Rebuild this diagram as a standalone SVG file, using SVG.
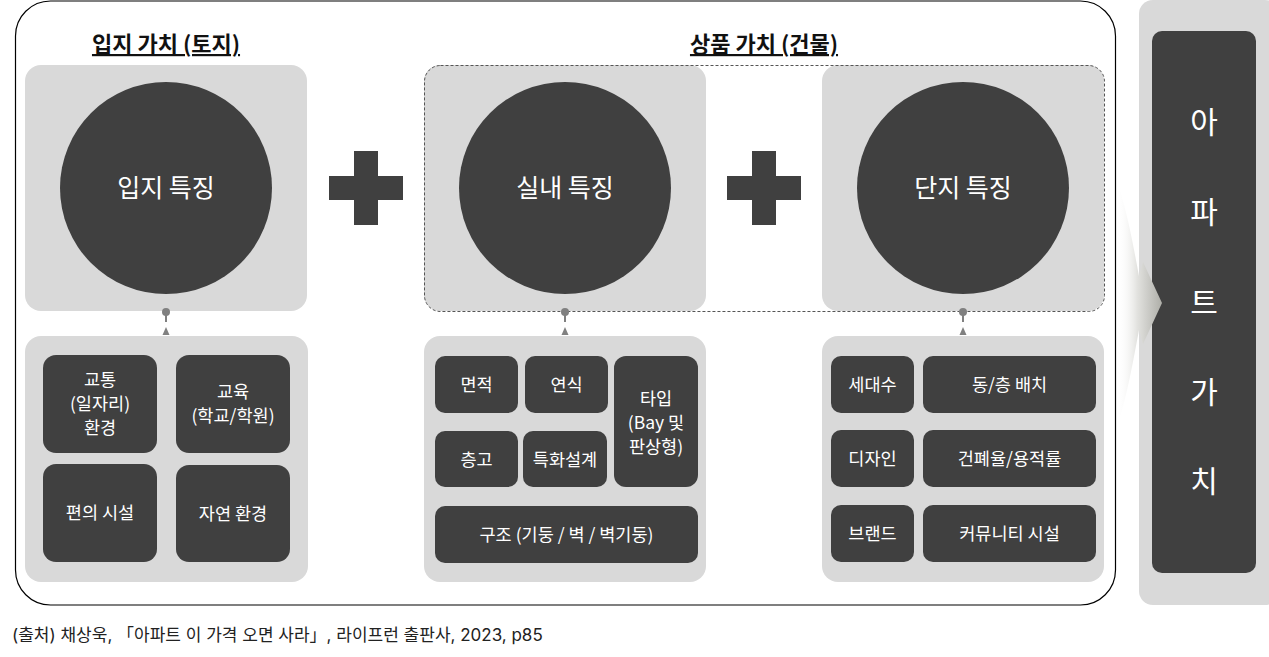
<svg xmlns="http://www.w3.org/2000/svg" width="1269" height="657" viewBox="0 0 1269 657">
<defs>
<style>
.bg{fill:#d9d9d9}
.dk{fill:#404040}
.t{font-family:"Noto Sans CJK KR","Noto Sans",sans-serif;fill:#ffffff;text-anchor:middle}
.s16{font-size:17.5px}
.s24{font-size:25px}
.hd{font-family:"Noto Sans CJK KR","Noto Sans",sans-serif;font-size:22px;font-weight:bold;fill:#111;text-anchor:middle;text-decoration:underline}
.con{stroke:#808080;stroke-width:2;fill:none}
.dot{fill:#808080}
</style>
<linearGradient id="ag" gradientUnits="userSpaceOnUse" x1="1117" y1="0" x2="1162" y2="0">
<stop offset="0" stop-color="#ffffff" stop-opacity="0"/>
<stop offset="0.45" stop-color="#e2e2df"/>
<stop offset="1" stop-color="#aeaea8"/>
</linearGradient>
</defs>
<rect width="1269" height="657" fill="#ffffff"/>

<rect x="15.5" y="1" width="1100" height="604" rx="35" fill="none" stroke="#000" stroke-width="1.2"/>

<g id="header-land"><text class="hd" x="166" y="52">입지 가치 (토지)</text></g>
<g id="header-product"><text class="hd" x="764" y="52">상품 가치 (건물)</text></g>

<g id="land-feature">
<rect class="bg" x="25" y="65" width="282" height="246" rx="16"/>
<circle class="dk" cx="166" cy="188" r="106"/>
<text class="t s24" x="166" y="197">입지 특징</text>
</g>

<g id="plus1"><rect class="dk" x="329" y="176" width="74" height="24"/><rect class="dk" x="354" y="151" width="24" height="74"/></g>

<g id="interior-feature">
<rect class="bg" x="424" y="65" width="282" height="246" rx="16"/>
<circle class="dk" cx="565" cy="188" r="106"/>
<text class="t s24" x="565" y="197">실내 특징</text>
</g>

<g id="plus2"><rect class="dk" x="727" y="176" width="74" height="24"/><rect class="dk" x="752" y="151" width="24" height="74"/></g>

<g id="complex-feature">
<rect class="bg" x="822" y="65" width="282" height="246" rx="16"/>
<circle class="dk" cx="963" cy="188" r="106"/>
<text class="t s24" x="963" y="197">단지 특징</text>
</g>

<g id="product-group"><rect x="424.5" y="65.5" width="680" height="246" rx="16" fill="none" stroke="#555" stroke-width="1" stroke-dasharray="3,2"/></g>

<g id="land-details">
<rect class="bg" x="25" y="336" width="283" height="246" rx="16"/>
<rect class="dk" x="43" y="355" width="114" height="98" rx="13"/>
<text class="t s16" x="100" y="386">교통</text><text class="t s16" x="100" y="410">(일자리)</text><text class="t s16" x="100" y="434">환경</text>
<rect class="dk" x="176" y="355" width="114" height="98" rx="13"/>
<text class="t s16" x="233" y="398">교육</text><text class="t s16" x="233" y="422">(학교/학원)</text>
<rect class="dk" x="43" y="464" width="114" height="98" rx="13"/>
<text class="t s16" x="100" y="519">편의 시설</text>
<rect class="dk" x="176" y="465" width="114" height="97" rx="13"/>
<text class="t s16" x="233" y="520">자연 환경</text>
</g>

<g id="interior-details">
<rect class="bg" x="424" y="336" width="282" height="246" rx="16"/>
<rect class="dk" x="435" y="356" width="83" height="57" rx="10"/><text class="t s16" x="476.5" y="391">면적</text>
<rect class="dk" x="525" y="356" width="83" height="57" rx="10"/><text class="t s16" x="566.5" y="391">연식</text>
<rect class="dk" x="614" y="356" width="84" height="131" rx="12"/>
<text class="t s16" x="656" y="405">타입</text><text class="t s16" x="656" y="429">(Bay 및</text><text class="t s16" x="656" y="453">판상형)</text>
<rect class="dk" x="435" y="431" width="83" height="56" rx="10"/><text class="t s16" x="476.5" y="466">층고</text>
<rect class="dk" x="523" y="431" width="84" height="56" rx="10"/><text class="t s16" x="565" y="466">특화설계</text>
<rect class="dk" x="435" y="506" width="263" height="57" rx="10"/><text class="t s16" x="566.5" y="541">구조 (기둥 / 벽 / 벽기둥)</text>
</g>

<g id="complex-details">
<rect class="bg" x="822" y="336" width="282" height="246" rx="16"/>
<rect class="dk" x="831" y="356" width="83" height="57" rx="10"/><text class="t s16" x="872.5" y="391">세대수</text>
<rect class="dk" x="923" y="356" width="173" height="57" rx="10"/><text class="t s16" x="1009.5" y="391">동/층 배치</text>
<rect class="dk" x="831" y="430" width="83" height="57" rx="10"/><text class="t s16" x="872.5" y="465">디자인</text>
<rect class="dk" x="923" y="430" width="173" height="57" rx="10"/><text class="t s16" x="1009.5" y="465">건폐율/용적률</text>
<rect class="dk" x="831" y="505" width="83" height="57" rx="10"/><text class="t s16" x="872.5" y="540">브랜드</text>
<rect class="dk" x="923" y="505" width="173" height="57" rx="10"/><text class="t s16" x="1009.5" y="540">커뮤니티 시설</text>
</g>

<g id="apartment-value">
<rect class="bg" x="1139" y="0" width="140" height="605" rx="14"/>
<rect class="dk" x="1152" y="31" width="104" height="542" rx="10"/>
<text class="t" style="font-size:30px" x="1204" y="133">아</text>
<text class="t" style="font-size:30px" x="1204" y="223">파</text>
<text class="t" style="font-size:30px" x="1204" y="313">트</text>
<text class="t" style="font-size:30px" x="1204" y="403">가</text>
<text class="t" style="font-size:30px" x="1204" y="492">치</text>
</g>

<g id="connectors">
<circle class="dot" cx="166" cy="312" r="4"/><line class="con" x1="166" y1="312" x2="166" y2="322"/><path class="dot" d="M166,327 L169.5,335 L162.5,335 Z"/>
<circle class="dot" cx="565" cy="312" r="4"/><line class="con" x1="565" y1="312" x2="565" y2="322"/><path class="dot" d="M565,327 L568.5,335 L561.5,335 Z"/>
<circle class="dot" cx="963" cy="312" r="4"/><line class="con" x1="963" y1="312" x2="963" y2="322"/><path class="dot" d="M963,327 L966.5,335 L959.5,335 Z"/>
<path d="M1119,188 C1128,215 1134,250 1139,276 L1143,262 L1162,303 L1143,344 L1139,330 C1134,356 1128,392 1119,420 C1118,380 1117,340 1117,303 C1117,266 1118,226 1119,188 Z" fill="url(#ag)"/>
</g>

<g id="source"><text x="12" y="641" style="font-family:Inter,'Noto Sans CJK KR',sans-serif;font-size:17px;fill:#222">(출처) 채상욱, 「아파트 이 가격 오면 사라」, 라이프런 출판사, 2023, p85</text></g>
</svg>
